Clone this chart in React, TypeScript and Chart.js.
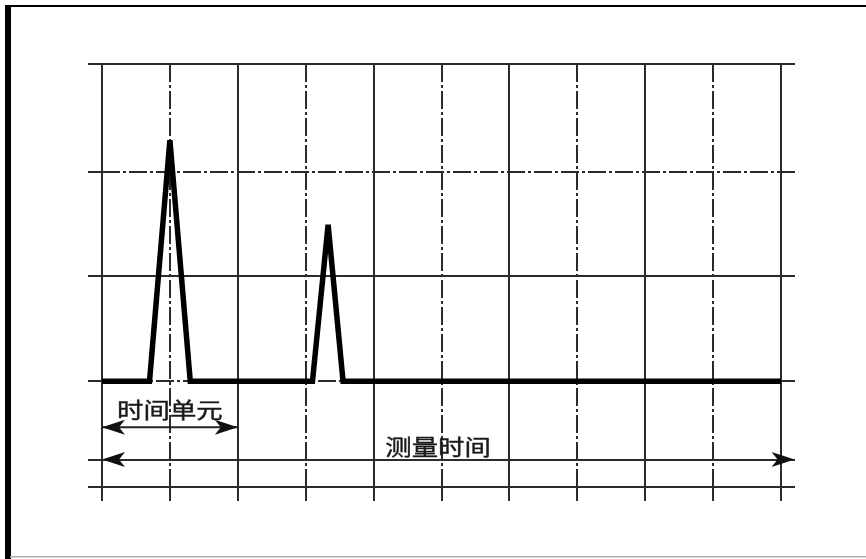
import React, { useEffect, useRef } from "react";
import { Chart, registerables } from "chart.js";

Chart.register(...registerables);

// pulse signal (time units on x, amplitude on y)
const pulseX = [0, 0.7, 1.0, 1.3, 3.1, 3.33, 3.55, 10];
const pulseY = [0, 0, 2.28, 0, 0, 1.48, 0, 0];

// grid ticks
const xTickValues = [0, 1, 2, 3, 4, 5, 6, 7, 8, 9, 10];
const dashedXTicks = [1, 3, 5, 7, 9];
const yTickValues = [-1, -0.74, 0, 1, 1.98, 3];
const dashedYTicks = [0, 1.98];

// annotations
const unitLabel = "时间单元";
const unitSpan = [0, 2];
const unitArrowY = -0.435;
const unitLabelY = -0.265;
const measureLabel = "测量时间";
const measureSpan = [0, 10.2];
const measureArrowY = -0.74;
const measureLabelX = 4.95;
const measureLabelY = -0.62;

const GRID = "#2b2b2b";
const DASH = [18, 3, 3, 3];

function head(ctx: CanvasRenderingContext2D, tipX: number, y: number, dir: number) {
  const len = 23, half = 7.5, notch = 6;
  ctx.beginPath();
  ctx.moveTo(tipX, y);
  ctx.lineTo(tipX - dir * len, y - half);
  ctx.lineTo(tipX - dir * (len - notch), y);
  ctx.lineTo(tipX - dir * len, y + half);
  ctx.closePath();
  ctx.fill();
}

function label(ctx: CanvasRenderingContext2D, text: string, x: number, y: number) {
  ctx.save();
  ctx.translate(x, y);
  ctx.scale(1.2, 1);
  ctx.font = '22px "Noto Sans CJK SC", "Noto Sans", sans-serif';
  ctx.textAlign = "center";
  ctx.textBaseline = "middle";
  ctx.fillStyle = "#1a1a1a";
  ctx.strokeStyle = "#1a1a1a";
  ctx.lineWidth = 0.4;
  ctx.fillText(text, 0, 0);
  ctx.strokeText(text, 0, 0);
  ctx.restore();
}

const framePlugin = {
  id: "frame",
  beforeDraw(chart: any) {
    const ctx = chart.ctx as CanvasRenderingContext2D;
    ctx.save();
    ctx.fillStyle = "#fff";
    ctx.fillRect(0, 0, chart.width, chart.height);
    ctx.fillStyle = "#000";
    ctx.fillRect(5, 5, chart.width - 5, 2);
    ctx.fillRect(5, 5, 6, chart.height - 5);
    ctx.fillStyle = "#b0b0b0";
    ctx.fillRect(10, 556, chart.width - 10, 1.5);
    ctx.restore();
  },
};

const annotationPlugin = {
  id: "arrows",
  afterDatasetsDraw(chart: any) {
    const ctx = chart.ctx as CanvasRenderingContext2D;
    const xs = chart.scales.x;
    const ys = chart.scales.y;
    ctx.save();
    ctx.fillStyle = "#111";
    ctx.strokeStyle = "#222";
    ctx.lineWidth = 2;
    // unit arrow
    const ux0 = xs.getPixelForValue(unitSpan[0]);
    const ux1 = xs.getPixelForValue(unitSpan[1]);
    const uy = ys.getPixelForValue(unitArrowY);
    ctx.beginPath();
    ctx.moveTo(ux0, uy);
    ctx.lineTo(ux1, uy);
    ctx.stroke();
    head(ctx, ux0, uy, -1);
    head(ctx, ux1, uy, 1);
    label(ctx, unitLabel, (ux0 + ux1) / 2, ys.getPixelForValue(unitLabelY));
    // measure arrow (line itself is a grid line)
    const mx0 = xs.getPixelForValue(measureSpan[0]);
    const mx1 = xs.getPixelForValue(measureSpan[1]);
    const my = ys.getPixelForValue(measureArrowY);
    head(ctx, mx0, my, -1);
    head(ctx, mx1, my, 1);
    label(ctx, measureLabel, xs.getPixelForValue(measureLabelX), ys.getPixelForValue(measureLabelY));
    ctx.restore();
  },
};

const yAxis = (position: "left" | "right", onArea: boolean) => ({
  type: "linear" as const,
  position,
  min: -1,
  max: 3,
  afterBuildTicks: (s: any) => {
    s.ticks = yTickValues.map((v) => ({ value: v }));
  },
  ticks: { display: false },
  grid: {
    color: GRID,
    lineWidth: 2,
    drawOnChartArea: onArea,
    drawTicks: true,
    tickLength: 14,
    tickColor: GRID,
    tickWidth: 2,
    tickBorderDash: (c: any) => (c.tick && dashedYTicks.includes(c.tick.value) ? DASH : []),
  },
  border: {
    display: false,
    dash: (c: any) => (c.tick && dashedYTicks.includes(c.tick.value) ? DASH : []),
  },
});

export default function App() {
  const ref = useRef<HTMLCanvasElement>(null);
  useEffect(() => {
    if (!ref.current) return;
    const chart = new Chart(ref.current, {
      type: "line",
      data: {
        datasets: [
          {
            data: pulseX.map((x, i) => ({ x, y: pulseY[i] })),
            borderColor: "#000",
            borderWidth: 5.5,
            pointRadius: 0,
            tension: 0,
            fill: false,
            clip: false as any,
            yAxisID: "y",
          },
        ],
      },
      options: {
        animation: false,
        responsive: false,
        devicePixelRatio: 1,
        events: [],
        layout: { autoPadding: false, padding: { left: 88, right: 71, top: 64, bottom: 58 } },
        plugins: { legend: { display: false }, tooltip: { enabled: false }, title: { display: false } },
        scales: {
          x: {
            type: "linear",
            position: "bottom",
            min: 0,
            max: 10,
            afterBuildTicks: (s: any) => {
              s.ticks = xTickValues.map((v) => ({ value: v }));
            },
            ticks: { display: false },
            grid: {
              color: GRID,
              lineWidth: 2,
              drawTicks: true,
              tickLength: 14,
              tickColor: GRID,
              tickWidth: 2,
              tickBorderDash: (c: any) => (c.tick && dashedXTicks.includes(c.tick.value) ? DASH : []),
            },
            border: {
              display: false,
              dash: (c: any) => (c.tick && dashedXTicks.includes(c.tick.value) ? DASH : []),
            },
          } as any,
          y: yAxis("left", true) as any,
          y2: yAxis("right", false) as any,
        },
      },
      plugins: [framePlugin, annotationPlugin],
    });
    return () => chart.destroy();
  }, []);
  return (
    <div style={{ position: "fixed", left: 0, top: 0, width: 866, height: 559, background: "#fff" }}>
      <canvas ref={ref} width={866} height={559} style={{ display: "block", width: 866, height: 559 }} />
    </div>
  );
}
